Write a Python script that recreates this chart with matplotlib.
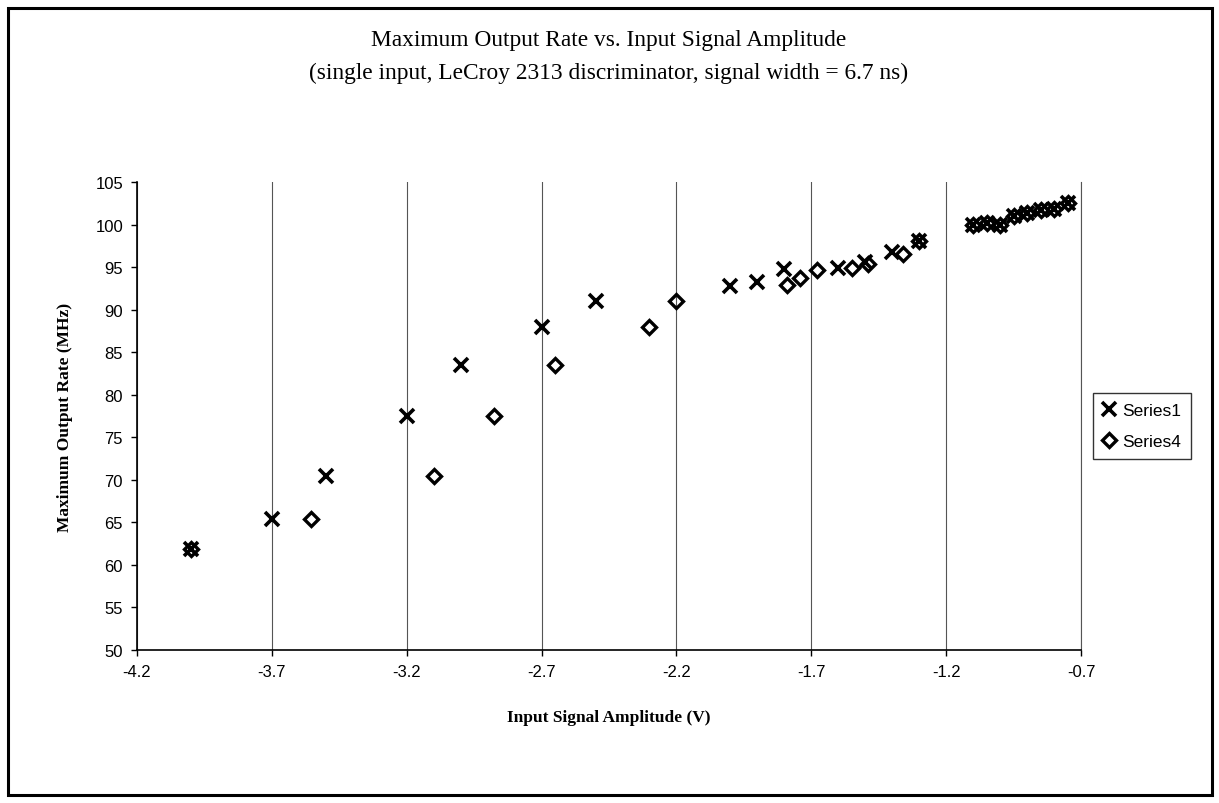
import matplotlib
matplotlib.use("Agg")
import matplotlib.pyplot as plt
from matplotlib.patches import Rectangle

# Data
series1_x = [-4.0, -3.7, -3.5, -3.2, -3.0, -2.7, -2.5, -2.0, -1.9, -1.8, -1.6, -1.5, -1.4, -1.3,
             -1.1, -1.05, -1.0, -0.95, -0.9, -0.85, -0.8, -0.75]
series1_y = [61.9, 65.4, 70.5, 77.5, 83.5, 88.0, 91.0, 92.8, 93.2, 94.8, 94.9, 95.6, 96.8, 98.1,
             100.0, 100.2, 99.9, 101.0, 101.3, 101.7, 101.8, 102.5]

series4_x = [-4.0, -3.555, -3.1, -2.876, -2.65, -2.3, -2.2, -1.79, -1.74, -1.68, -1.55, -1.49, -1.36, -1.3,
             -1.1, -1.05, -1.0, -0.95, -0.9, -0.85, -0.8, -0.75]
series4_y = [61.9, 65.4, 70.5, 77.5, 83.5, 88.0, 91.0, 92.9, 93.7, 94.7, 94.9, 95.4, 96.5, 98.1,
             100.0, 100.2, 99.9, 101.0, 101.3, 101.7, 101.8, 102.5]

x_ticks = [-4.2, -3.7, -3.2, -2.7, -2.2, -1.7, -1.2, -0.7]
y_ticks = [50, 55, 60, 65, 70, 75, 80, 85, 90, 95, 100, 105]

title_text = "Maximum Output Rate vs. Input Signal Amplitude\n(single input, LeCroy 2313 discriminator, signal width = 6.7 ns)"
x_label = "Input Signal Amplitude (V)"
y_label = "Maximum Output Rate (MHz)"

serif = "Liberation Serif"
sans = "Liberation Sans"

fig = plt.figure(figsize=(12.19, 8.04), dpi=100)
fig.patch.set_facecolor("white")
ax = fig.add_axes([137/1219, 1-651/804, (1081-137)/1219, (651-183)/804])

ax.plot(series4_x, series4_y, linestyle="none", marker="D", markersize=7.5,
        markerfacecolor="none", markeredgecolor="black", markeredgewidth=2.4,
        label="Series4", zorder=3)
ax.plot(series1_x, series1_y, linestyle="none", marker="x", markersize=10,
        markeredgecolor="black", markeredgewidth=2.6, label="Series1", zorder=4)

ax.set_xlim(-4.2, -0.7)
ax.set_ylim(50, 105)
ax.set_xticks(x_ticks)
ax.set_yticks(y_ticks)
ax.set_xticklabels([f"{v:g}" for v in x_ticks], fontfamily=sans, fontsize=12)
ax.set_yticklabels([f"{v:g}" for v in y_ticks], fontfamily=sans, fontsize=12)
ax.tick_params(axis="both", direction="out", length=4, width=1, color="black", pad=6)
ax.xaxis.grid(True, color="#555555", linewidth=0.8)
ax.yaxis.grid(False)
ax.set_axisbelow(True)
ax.spines["top"].set_visible(False)
ax.spines["right"].set_color("#555555")
ax.spines["right"].set_linewidth(0.8)
ax.spines["left"].set_linewidth(1.2)
ax.spines["bottom"].set_linewidth(1.2)

ax.set_xlabel(x_label, fontfamily=serif, fontweight="bold", fontsize=12.5, labelpad=22)
ax.set_ylabel(y_label, fontfamily=serif, fontweight="bold", fontsize=12.5, labelpad=16)

fig.text(609/1219, 1-57/804, title_text, ha="center", va="center",
         fontfamily=serif, fontsize=16.8, linespacing=1.75)

handles, labels = ax.get_legend_handles_labels()
leg = fig.legend(handles[::-1], labels[::-1], loc="center left",
                 bbox_to_anchor=(1093/1219, 1-427/804), frameon=True, fancybox=False,
                 prop={"family": sans, "size": 12.5}, handlelength=0.8, handletextpad=0.35,
                 borderpad=0.55, labelspacing=0.95, borderaxespad=0, markerscale=1.0)
leg.get_frame().set_edgecolor("black")
leg.get_frame().set_linewidth(1.0)

fig.patches.append(Rectangle((8/1219, 1-796/804), (1212-8)/1219, (796-9)/804,
                             transform=fig.transFigure, fill=False, edgecolor="black",
                             linewidth=2.2))

fig.savefig("out.png", dpi=100, facecolor="white")
